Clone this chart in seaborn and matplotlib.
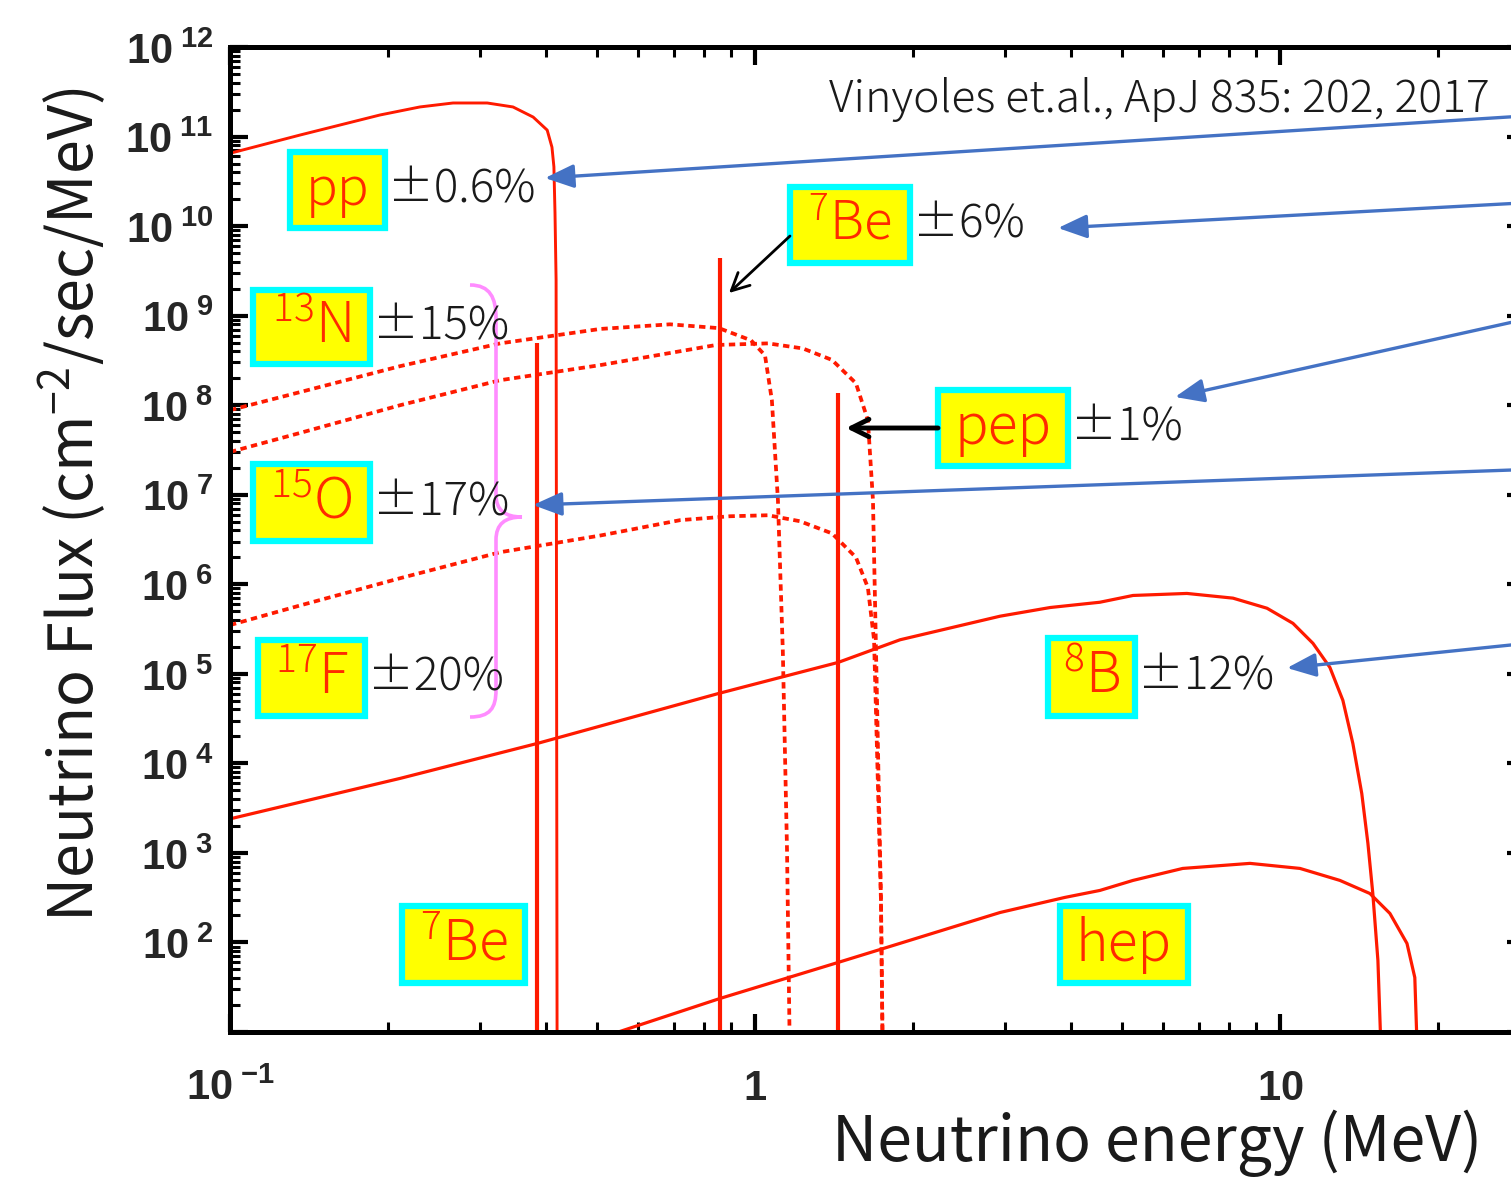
import numpy as np
import matplotlib
matplotlib.use('Agg')
import matplotlib.pyplot as plt
import seaborn as sns
from matplotlib.patches import Rectangle, PathPatch
from matplotlib.path import Path
import matplotlib.transforms as mtransforms
from matplotlib.ticker import FixedLocator, LogLocator, NullFormatter, FixedFormatter

W, H, DPI = 1511, 1182, 100

# ---------------- data (energy in MeV, flux in cm^-2 s^-1 MeV^-1) ----------------
pp_E = [0.100, 0.136, 0.193, 0.230, 0.266, 0.309, 0.346, 0.378, 0.402, 0.4105, 0.414, 0.416, 0.418, 0.420]
pp_F = [6.5e10, 1.04e11, 1.74e11, 2.14e11, 2.37e11, 2.37e11, 2.14e11, 1.65e11, 1.18e11, 7.6e10, 4.6e10, 1.4e10, 2.5e9, 1.0]

n13_E = [0.100, 0.136, 0.211, 0.327, 0.507, 0.689, 0.854, 0.983, 1.045, 1.077, 1.106, 1.130, 1.151, 1.170]
n13_F = [8.8e7, 1.4e8, 2.73e8, 4.9e8, 7.1e8, 8.0e8, 7.25e8, 5.3e8, 3.6e8, 1.14e8, 8.7e6, 1.8e5, 1.07e3, 1.0]

o15_E = [0.100, 0.136, 0.211, 0.327, 0.507, 0.843, 1.059, 1.234, 1.402, 1.557, 1.641, 1.678, 1.708, 1.738, 1.757]
o15_F = [3.0e7, 4.9e7, 1.0e8, 1.9e8, 2.8e8, 4.7e8, 4.9e8, 4.3e8, 3.2e8, 1.76e8, 6.8e7, 8.7e6, 5.1e4, 2.9e2, 1.0]

f17_E = [0.100, 0.136, 0.211, 0.327, 0.507, 0.720, 0.896, 1.059, 1.218, 1.402, 1.557, 1.641, 1.686, 1.708, 1.738, 1.757]
f17_F = [3.5e5, 5.8e5, 1.17e6, 2.28e6, 3.5e6, 5.2e6, 5.75e6, 5.9e6, 5.06e6, 3.7e6, 2.0e6, 9.2e5, 2.4e5, 1.4e4, 2.9e2, 1.0]

b8_E = [0.100, 0.211, 0.385, 0.854, 1.44, 1.89, 2.93, 3.65, 4.54, 5.25, 6.65, 8.14, 9.45, 10.59,
        11.56, 12.45, 13.18, 13.77, 14.32, 14.71, 15.03, 15.37, 15.75]
b8_F = [2.4e3, 6.8e3, 1.67e4, 6.05e4, 1.34e5, 2.4e5, 4.4e5, 5.5e5, 6.3e5, 7.5e5, 7.9e5, 7.0e5, 5.4e5, 3.66e5,
        2.19e5, 1.18e5, 5.06e4, 1.67e4, 4.6e3, 1.28e3, 352, 63, 1.0]

hep_E = [0.52, 0.858, 1.44, 2.93, 3.89, 4.54, 5.25, 6.53, 8.77, 10.92, 13.01, 14.84, 16.2, 17.46, 18.07, 18.45]
hep_F = [9.0, 23.7, 59.8, 216, 318, 381, 493, 671, 764, 671, 493, 352, 211, 97.5, 40.6, 1.0]

line_E = [0.385, 0.858, 1.44]          # 7Be, 7Be, pep monoenergetic lines
line_F = [4.9e8, 4.4e9, 1.36e8]

x_ticks = [0.1, 1, 10]
x_ticklabels = [r'$\mathbf{10}^{\;\mathbf{-1}}$', r'$\mathbf{1}$', r'$\mathbf{10}$']
y_exps = list(range(1, 13))

labels = ['pp', r'$\mathregular{^{7}}$Be', r'$\mathregular{^{13}}$N', r'$\mathregular{^{15}}$O',
          r'$\mathregular{^{17}}$F', 'pep', r'$\mathregular{^{8}}$B', r'$\mathregular{^{7}}$Be', 'hep']
pcts = ['±0.6%', '±6%', '±15%', '±17%', '±20%', '±1%', '±12%', '', '']

# ---------------- style ----------------
sns.set_theme(style='ticks')
plt.rcParams['font.family'] = ['Noto Sans CJK JP', 'DejaVu Sans']
plt.rcParams['font.weight'] = 'light'
plt.rcParams['mathtext.fontset'] = 'custom'
plt.rcParams['mathtext.rm'] = 'Liberation Sans'
plt.rcParams['mathtext.bf'] = 'Liberation Sans:bold'
plt.rcParams['axes.unicode_minus'] = False

RED = '#FF1A00'
TXT_RED = '#FF2A00'
BLUE = '#4472C4'
INK = '#1a1a1a'

fig = plt.figure(figsize=(W / DPI, H / DPI), dpi=DPI)
fig.patch.set_facecolor('white')
ax = fig.add_axes([230 / W, 1 - 1032 / H, (1525 - 230) / W, (1032 - 47) / H])
ax.set_xscale('log')
ax.set_yscale('log')

def curve(E, F, lw=2.0, ls='-'):
    sns.lineplot(x=E, y=F, sort=False, estimator=None, color=RED, lw=lw, ax=ax, legend=False)
    ax.lines[-1].set_linestyle(ls)
    ax.lines[-1].set_solid_joinstyle('round')

dotted = (0, (1.7, 1.2))
curve(pp_E, pp_F, lw=2.1)
curve(n13_E, n13_F, lw=2.7, ls=dotted)
curve(o15_E, o15_F, lw=2.7, ls=dotted)
curve(f17_E, f17_F, lw=2.7, ls=dotted)
curve(b8_E, b8_F, lw=2.3)
curve(hep_E, hep_F, lw=2.3)
ax.vlines(line_E, 1.0, line_F, colors=RED, lw=3.0)

ax.set_xlim(0.1, 29.3)
ax.set_ylim(10, 1e12)

ax.xaxis.set_major_locator(FixedLocator(x_ticks))
ax.xaxis.set_major_formatter(FixedFormatter(x_ticklabels))
ax.xaxis.set_minor_locator(LogLocator(base=10, subs=np.arange(2, 10), numticks=30))
ax.xaxis.set_minor_formatter(NullFormatter())
ax.yaxis.set_major_locator(FixedLocator([10.0 ** k for k in y_exps]))
ax.yaxis.set_major_formatter(FixedFormatter(
    ['' if k == 1 else r'$\mathbf{10}^{\;\mathbf{%d}}$' % k for k in y_exps]))
ax.yaxis.set_minor_locator(LogLocator(base=10, subs=np.arange(2, 10), numticks=40))
ax.yaxis.set_minor_formatter(NullFormatter())

ax.tick_params(which='both', direction='in', top=True, right=True, color='black')
ax.tick_params(which='major', length=13, width=3.0, labelsize=30)
ax.tick_params(which='minor', length=7, width=2.2)
ax.tick_params(axis='y', which='major', pad=12)
ax.tick_params(axis='x', which='major', pad=49)
for lab in ax.get_xticklabels():
    lab.set_va('baseline')
for s in ax.spines.values():
    s.set_linewidth(3.6)
    s.set_color('black')
ax.set_facecolor('white')

ax.set_ylabel(r'Neutrino Flux (cm$\mathregular{^{-2}}$/sec/MeV)', fontsize=44, va='center', color=INK)
ax.yaxis.set_label_coords((72 - 230) / 1295, (1032 - 505) / 985)
ax.set_xlabel('Neutrino energy (MeV)', fontsize=45, ha='right', va='center', color=INK)
ax.xaxis.set_label_coords((1482 - 230) / 1295, (1032 - 1143) / 985)

fig.text(1490 / W, 1 - 100 / H, 'Vinyoles et.al., ApJ 835: 202, 2017', fontsize=32,
         ha='right', va='center', color=INK)

# ---------------- label boxes ----------------
boxes = [(290, 152, 385, 228), (790, 187, 910, 263), (253, 290, 370, 364), (253, 464, 370, 541),
         (258, 640, 365, 716), (938, 390, 1068, 466), (1048, 638, 1135, 716),
         (402, 906, 525, 983), (1060, 906, 1188, 983)]
sizes = [38, 38, 40, 40, 40, 40, 40, 40, 40]
for (x0, y0, x1, y1), lab, pct, fs in zip(boxes, labels, pcts, sizes):
    fig.add_artist(Rectangle((x0 / W, 1 - y1 / H), (x1 - x0) / W, (y1 - y0) / H,
                             transform=fig.transFigure, facecolor='#FFFF00',
                             edgecolor='#00FFFF', lw=4.5, zorder=5))
    fig.text((x0 + x1) / 2 / W, 1 - (y0 + y1) / 2 / H, lab, fontsize=fs, color=TXT_RED,
             ha='center', va='center', zorder=6)
    if pct:
        fig.text((x1 + 3) / W, 1 - (y0 + y1) / 2 / H, pct, fontsize=33, color=INK,
                 ha='left', va='center', zorder=6)

# ---------------- arrows ----------------
def P(px, py):
    return (px, H - py)

blue_arrows = [((1540, 115), (545, 178)), ((1540, 202), (1058, 228)), ((1540, 316), (1175, 397)),
               ((1540, 469), (533, 505)), ((1540, 642), (1287, 668))]
for start, tip in blue_arrows:
    fig.add_artist(matplotlib.text.Annotation(
        '', xy=P(*tip), xytext=P(*start), xycoords='figure pixels', textcoords='figure pixels',
        arrowprops=dict(arrowstyle='-|>,head_length=1.1,head_width=0.45', color=BLUE, lw=2.4,
                        mutation_scale=16, shrinkA=0, shrinkB=0), zorder=7))

black_arrows = [((790, 236), (729, 293), 2.0), ((938, 428), (846, 428), 3.5)]
for start, tip, lw in black_arrows:
    fig.add_artist(matplotlib.text.Annotation(
        '', xy=P(*tip), xytext=P(*start), xycoords='figure pixels', textcoords='figure pixels',
        arrowprops=dict(arrowstyle='->,head_length=0.7,head_width=0.35', color='black', lw=lw,
                        mutation_scale=18, shrinkA=0, shrinkB=0), zorder=7))

# curly brace grouping the CNO labels
verts = [(470, 285), (490, 285), (496, 298), (496, 318),
         (496, 495),
         (496, 510), (505, 517), (522, 517),
         (505, 517), (496, 524), (496, 540),
         (496, 690),
         (496, 708), (490, 717), (470, 717)]
codes = [Path.MOVETO, Path.CURVE4, Path.CURVE4, Path.CURVE4,
         Path.LINETO,
         Path.CURVE4, Path.CURVE4, Path.CURVE4,
         Path.CURVE4, Path.CURVE4, Path.CURVE4,
         Path.LINETO,
         Path.CURVE4, Path.CURVE4, Path.CURVE4]
tr = mtransforms.Affine2D().scale(1, -1).translate(0, H)
fig.add_artist(PathPatch(Path(verts, codes), transform=tr, facecolor='none',
                         edgecolor='#FF8CFF', lw=2.6, zorder=4))

fig.savefig('out.png', dpi=DPI, facecolor='white')
